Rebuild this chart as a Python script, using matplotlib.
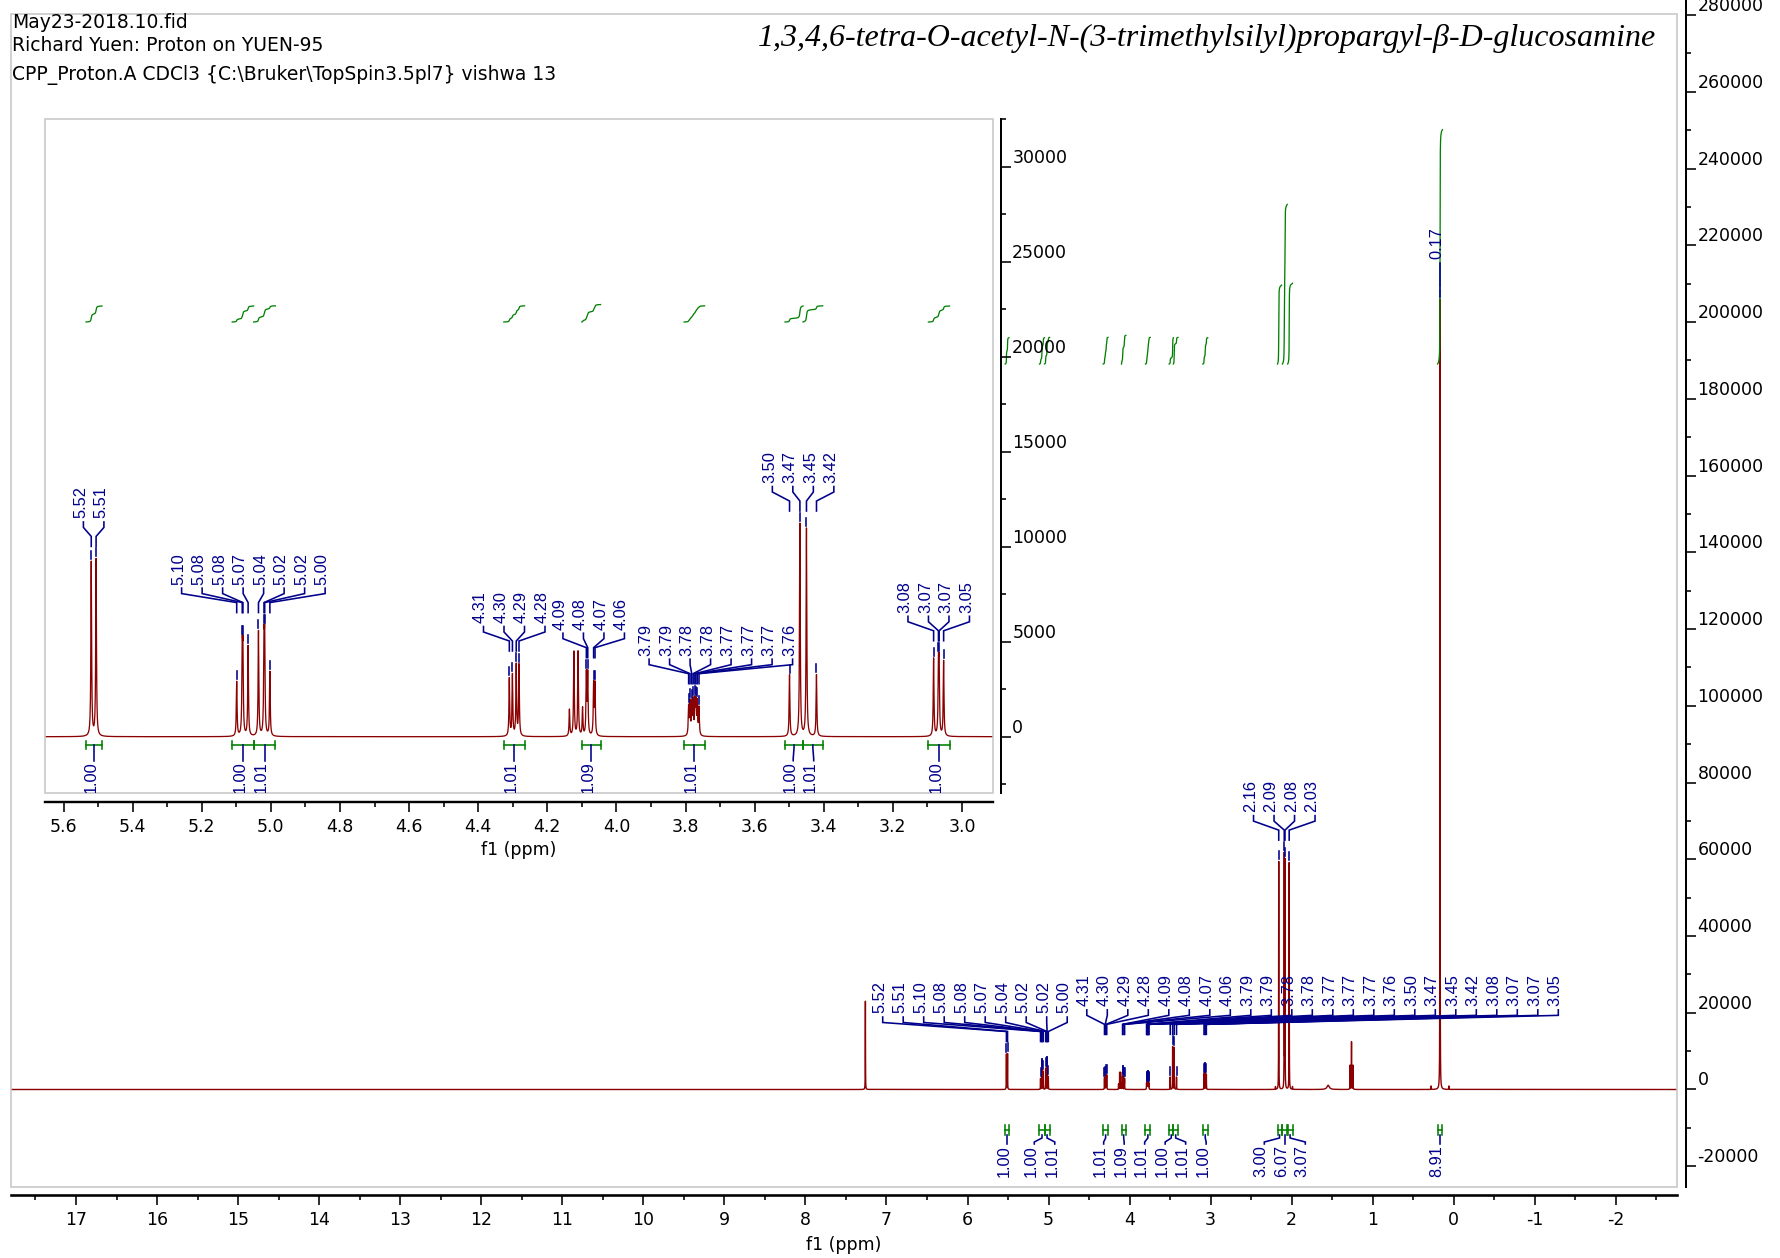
import numpy as np
import matplotlib
matplotlib.use("Agg")
import matplotlib.pyplot as plt
from matplotlib.patches import Rectangle
from matplotlib.ticker import MultipleLocator, FuncFormatter

W, H, DPI = 1781, 1258, 100
PT = 72.0 / DPI  # points per pixel

plt.rcParams['axes.unicode_minus'] = False
plt.rcParams['font.family'] = ['DejaVu Sans']

RED = '#8B0000'
BLUE = '#00008B'
GREEN = '#008000'
FRAME = '#C8C8C8'

# ---------------- resonances (ppm, intensity) ----------------
h1_ppm = [5.520, 5.506]
h1_int = [9170, 9310]
h3_ppm = [5.099, 5.083, 5.081, 5.066]
h3_int = [2860, 4080, 4080, 4740]
h4_ppm = [5.036, 5.020, 5.018, 5.003]
h4_int = [5525, 4560, 4560, 3385]
h6a_ppm = [4.310, 4.301, 4.290, 4.282]
h6a_int = [3035, 3210, 3736, 3736]
h6b_ppm = [4.087, 4.083, 4.066, 4.062]
h6b_int = [3190, 3190, 2675, 2675]
h5_ppm = [3.791, 3.787, 3.782, 3.778, 3.773, 3.770, 3.766, 3.761]
h5_int = [1500, 1700, 1600, 1750, 1700, 1600, 1700, 1450]
nch2_ppm = [3.499, 3.469, 3.450, 3.421]
nch2_int = [3245, 11190, 10930, 3245]
h2_ppm = [3.082, 3.068, 3.066, 3.053]
h2_int = [4100, 3400, 3400, 3960]
oac_ppm = [2.160, 2.092, 2.083, 2.031]
oac_int = [59400, 60700, 59000, 59100]
sime3_ppm = [0.170]
sime3_int = [206000]

# solvent, ethyl acetate and satellite lines
other_ppm = [7.260, 4.136, 4.123, 4.111, 4.098, 1.280, 1.262, 1.244,
             2.200, 1.990, 0.280, 0.060]
other_int = [23000, 1400, 4440, 4440, 1460, 6300, 12400, 6300,
             700, 700, 900, 900]
water_ppm = 1.55
water_int = 1100

# integration regions and integral values
int_start = [5.535, 5.112, 5.050, 4.326, 4.100, 3.804, 3.512, 3.460, 3.097,
             2.175, 2.115, 2.050, 0.200]
int_end = [5.489, 5.050, 4.987, 4.266, 4.046, 3.745, 3.460, 3.403, 3.036,
           2.125, 2.055, 1.990, 0.140]
int_value = [1.00, 1.00, 1.01, 1.01, 1.09, 1.01, 1.00, 1.01, 1.00,
             3.00, 6.07, 3.07, 8.91]
N_INSET_INT = 9

header_lines = ["May23-2018.10.fid",
                "Richard Yuen: Proton on YUEN-95",
                "CPP_Proton.A CDCl3 {C:\\Bruker\\TopSpin3.5pl7} vishwa 13"]
title = "1,3,4,6-tetra-O-acetyl-N-(3-trimethylsilyl)propargyl-\u03b2-D-glucosamine"

LINE_FWHM = 0.0025
WATER_FWHM = 0.035

all_ppm = np.array(h1_ppm + h3_ppm + h4_ppm + h6a_ppm + h6b_ppm + h5_ppm +
                   nch2_ppm + h2_ppm + oac_ppm + sime3_ppm + other_ppm)
all_int = np.array(h1_int + h3_int + h4_int + h6a_int + h6b_int + h5_int +
                   nch2_int + h2_int + oac_int + sime3_int + other_int, float)


def spectrum(x):
    x = np.asarray(x, float)
    y = np.zeros_like(x)
    for p, h in zip(all_ppm, all_int):
        y += h / (1.0 + ((x - p) / (LINE_FWHM / 2)) ** 2)
    y += water_int / (1.0 + ((x - water_ppm) / (WATER_FWHM / 2)) ** 2)
    return y


x_grid = np.union1d(np.arange(-2.8, 17.85, 0.0004), all_ppm)
y_grid = spectrum(x_grid)


def integral_shape(a, b, n=1500):
    xs = np.linspace(a, b, n)
    c = np.cumsum(spectrum(xs))
    c = (c - c[0]) / (c[-1] - c[0])
    return xs, c


def px_rect(l, t, r, b):
    return [l / W, 1 - b / H, (r - l) / W, (b - t) / H]


fig = plt.figure(figsize=(W / DPI, H / DPI), dpi=DPI)
fig.patch.set_facecolor('white')

# ---------------- main spectrum ----------------
ax = fig.add_axes(px_rect(11, 0, 1677, 1187), zorder=1)
ax.plot(x_grid, y_grid, color=RED, lw=1.4 * PT)
ax.set_xlim(17.802, -2.754)
ax.set_ylim(-25409, 283924)
for s in ('top', 'left'):
    ax.spines[s].set_visible(False)
ax.spines['bottom'].set_position(('outward', 8 * PT))
ax.spines['right'].set_position(('outward', 9 * PT))
ax.spines['bottom'].set_linewidth(2.6 * PT)
ax.spines['right'].set_linewidth(2.0 * PT)
ax.xaxis.set_major_locator(MultipleLocator(1))
ax.xaxis.set_minor_locator(MultipleLocator(0.5))
ax.xaxis.set_major_formatter(FuncFormatter(lambda v, _: f"{int(round(v))}"))
ax.yaxis.tick_right()
ax.yaxis.set_major_locator(MultipleLocator(20000))
ax.yaxis.set_minor_locator(MultipleLocator(10000))
ax.yaxis.set_major_formatter(FuncFormatter(lambda v, _: f"{int(round(v))}"))
ax.tick_params(axis='x', which='major', direction='out', length=10 * PT,
               width=1.6 * PT, labelsize=12.5, pad=6 * PT)
ax.tick_params(axis='x', which='minor', direction='out', length=5 * PT, width=1.6 * PT)
ax.tick_params(axis='y', which='major', direction='out', length=10 * PT,
               width=1.6 * PT, labelsize=12.5, pad=1.5 * PT)
ax.tick_params(axis='y', which='minor', direction='out', length=5 * PT, width=1.6 * PT)

base_main, unit_main = 189065, 6854
for k in range(len(int_value)):
    xs, c = integral_shape(int_start[k], int_end[k])
    ax.plot(xs, base_main + int_value[k] * unit_main * c, color=GREEN, lw=1.3 * PT)

# ---------------- inset ----------------
axi = fig.add_axes(px_rect(45.4, 118.7, 992.7, 792.7), zorder=3)
axi.set_facecolor('white')
axi.plot(x_grid, y_grid, color=RED, lw=1.3 * PT)
axi.set_xlim(5.6527, 2.911)
axi.set_ylim(-2947, 32525)
for s in ('top', 'left'):
    axi.spines[s].set_visible(False)
axi.spines['bottom'].set_position(('outward', 9.3 * PT))
axi.spines['right'].set_position(('outward', 8 * PT))
axi.spines['bottom'].set_linewidth(2.4 * PT)
axi.spines['right'].set_linewidth(2.0 * PT)
axi.xaxis.set_major_locator(MultipleLocator(0.2))
axi.xaxis.set_minor_locator(MultipleLocator(0.1))
axi.xaxis.set_major_formatter(FuncFormatter(lambda v, _: f"{v:.1f}"))
axi.yaxis.tick_right()
axi.yaxis.set_major_locator(MultipleLocator(5000))
axi.yaxis.set_minor_locator(MultipleLocator(2500))
axi.yaxis.set_major_formatter(FuncFormatter(lambda v, _: f"{int(round(v))}"))
axi.tick_params(axis='x', which='major', direction='out', length=10 * PT,
                width=1.6 * PT, labelsize=12.5, pad=6 * PT)
axi.tick_params(axis='x', which='minor', direction='out', length=5 * PT, width=1.6 * PT)
axi.tick_params(axis='y', which='major', direction='out', length=10 * PT,
                width=1.6 * PT, labelsize=12.5, pad=1.5 * PT)
axi.tick_params(axis='y', which='minor', direction='out', length=5 * PT, width=1.6 * PT)
axi.add_patch(Rectangle((0, 0), 1, 1, transform=axi.transAxes, fill=False,
                        ec=FRAME, lw=1.6 * PT, clip_on=False, zorder=5))

base_in, unit_in = 21825, 842
for k in range(N_INSET_INT):
    xs, c = integral_shape(int_start[k], int_end[k])
    axi.plot(xs, base_in + int_value[k] * unit_in * c, color=GREEN, lw=1.3 * PT)

# ---------------- annotation layers (pixel coordinates) ----------------
def overlay(z):
    o = fig.add_axes([0, 0, 1, 1], zorder=z)
    o.set_xlim(0, W)
    o.set_ylim(0, H)
    o.axis('off')
    return o


ov_main = overlay(2)
ov_in = overlay(4)


def to_px(a, xs, ys):
    return a.transData.transform(np.column_stack([np.atleast_1d(xs), np.atleast_1d(ys)]))


LABEL_STEP = 20.5
LAB_FONT = dict(color=BLUE, fontsize=11.8, family=['Liberation Sans', 'DejaVu Sans'])


def peak_labels(o, a, groups, shifts):
    for ppms, shift in zip(groups, shifts):
        ppms = sorted(ppms, reverse=True)
        pts = to_px(a, ppms, spectrum(ppms))
        px, top = pts[:, 0], pts[:, 1]
        n = len(ppms)
        lx = px.mean() + shift + (np.arange(n) - (n - 1) / 2) * LABEL_STEP
        yb = top.max() + 40
        for i in range(n):
            o.text(lx[i] + 1.5, yb, f"{ppms[i]:.2f}", rotation=90, rotation_mode='anchor',
                   ha='left', va='baseline', **LAB_FONT)
            o.plot([lx[i], lx[i], px[i], px[i]], [yb - 3.5, yb - 9, yb - 18, yb - 28],
                   color=BLUE, lw=1.6 * PT, solid_joinstyle='miter')
            lo = top[i] + 2
            if (yb - 28) - (top[i] + 10) < 2:
                o.plot([px[i], px[i]], [yb - 28, lo], color=BLUE, lw=1.6 * PT)
            else:
                o.plot([px[i], px[i]], [top[i] + 10, lo], color=BLUE, lw=1.6 * PT)


def spread(ideal, step):
    clusters = [[v] for v in ideal]

    def place(c):
        m, n = np.mean(c), len(c)
        return [m + (k - (n - 1) / 2) * step for k in range(n)]

    merged = True
    while merged:
        merged = False
        for i in range(len(clusters) - 1):
            if place(clusters[i + 1])[0] - place(clusters[i])[-1] < step - 1e-6:
                clusters[i] = clusters[i] + clusters[i + 1]
                del clusters[i + 1]
                merged = True
                break
    out = []
    for c in clusters:
        out += place(c)
    return out


def integral_marks(o, a, idx, bar_y, cap, drop, text_top, clip=None):
    ax0 = to_px(a, [int_start[k] for k in idx], [0] * len(idx))[:, 0]
    ax1 = to_px(a, [int_end[k] for k in idx], [0] * len(idx))[:, 0]
    cx = (ax0 + ax1) / 2
    lx = spread(list(cx), LABEL_STEP)
    for j, k in enumerate(idx):
        o.plot([ax0[j], ax1[j]], [bar_y, bar_y], color=GREEN, lw=1.6 * PT)
        for e in (ax0[j], ax1[j]):
            o.plot([e, e], [bar_y - cap, bar_y + cap], color=GREEN, lw=1.6 * PT)
        o.plot([cx[j], cx[j], lx[j], lx[j]],
               [bar_y - drop, bar_y - drop - 3, text_top + 3, text_top + 1],
               color=BLUE, lw=1.6 * PT, solid_joinstyle='miter')
        t = o.text(lx[j] + 1.5, text_top, f"{int_value[k]:.2f}", rotation=90,
                   rotation_mode='anchor', ha='right', va='baseline', **LAB_FONT)
        if clip is not None:
            t.set_clip_box(clip)
            t.set_clip_on(True)


# inset peak labels and integrals
peak_labels(ov_in, axi,
            [h1_ppm, h3_ppm + h4_ppm, h6a_ppm, h6b_ppm, h5_ppm, nch2_ppm, h2_ppm],
            [0, 0, 0, 3, 27, 0, 0])
integral_marks(ov_in, axi, list(range(N_INSET_INT)), H - 745, 4, 0, H - 761.7,
               clip=axi.bbox)

# main peak labels and integrals
peak_labels(ov_main, ax,
            [h1_ppm + h3_ppm + h4_ppm,
             h6a_ppm + h6b_ppm + h5_ppm + nch2_ppm + h2_ppm,
             oac_ppm, sime3_ppm],
            [-62, 172, 0, 0])
integral_marks(ov_main, ax, list(range(len(int_value))), H - 1130, 5, 5, H - 1145)

# frame around main plot
ov_main.add_patch(Rectangle((11, H - 1187), 1666, 1173, fill=False, ec=FRAME, lw=1.6 * PT))

# ---------------- texts ----------------
for txt, yc in zip(header_lines, [22.7, 45.4, 75.0]):
    fig.text(12 / W, 1 - yc / H, txt, ha='left', va='center', fontsize=13.5, zorder=6)
fig.text(1656 / W, 1 - 38 / H, title, ha='right', va='center', fontsize=23.0,
         family=['Liberation Serif', 'DejaVu Serif'], style='italic', zorder=6)
fig.text(519 / W, 1 - 850 / H, "f1 (ppm)", ha='center', va='center', fontsize=12.5, zorder=6)
fig.text(844 / W, 1 - 1245 / H, "f1 (ppm)", ha='center', va='center', fontsize=12.5, zorder=6)

fig.canvas.draw()
for a in (ax, axi):
    for lbl in a.get_yticklabels():
        lbl.set_verticalalignment('bottom')

fig.savefig("out.png", dpi=DPI)
